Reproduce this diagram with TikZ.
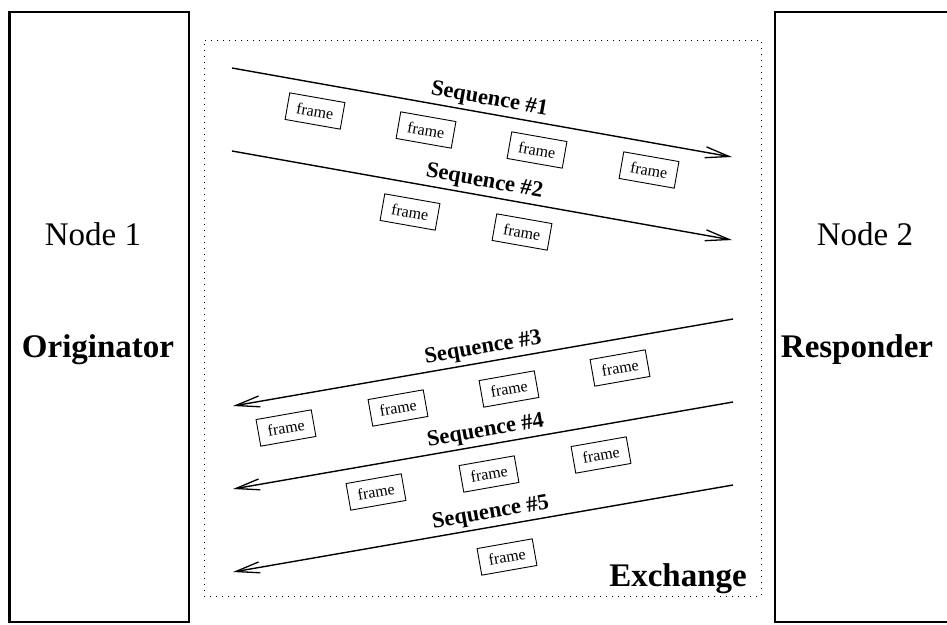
\documentclass[tikz,border=0pt]{standalone}
\usepackage{fontspec}
\setmainfont{Liberation Serif}
\usetikzlibrary{arrows.meta}

\tikzset{
  station/.style={draw, line width=2.6pt, inner sep=0pt},
  area/.style={draw, line width=0.9pt, dash pattern=on 0.9pt off 5.1pt, inner sep=0pt},
  flow/.style={line width=1.4pt,
    -{Straight Barb[length=24pt,width=11pt,line width=1.3pt]}},
  frm/.style={draw, line width=0.9pt, minimum width=56pt, minimum height=27pt,
    inner sep=0pt, font=\fontsize{16}{17}\selectfont},
  seqlabel/.style={font=\fontsize{22.5}{24}\selectfont\bfseries, sloped, above,
    inner sep=3pt},
  big/.style={font=\fontsize{33}{36}\selectfont, anchor=base, inner sep=0pt},
  bigbold/.style={big, font=\fontsize{33}{36}\selectfont\bfseries},
}

\begin{document}
\begin{tikzpicture}[x=1pt, y=-1pt]
  \clip (0,0) rectangle (947,624);

  % end stations and the exchange area
  \node[station, minimum width=179.5pt, minimum height=610pt] (orig) at (99.25,317) {};
  \node[station, minimum width=185pt, minimum height=610pt] (resp) at (867.5,317) {};
  \node[area, minimum width=557pt, minimum height=556pt] (exch) at (482.5,318) {};

  \node[big] (n1) at (93,245) {Node 1};
  \node[bigbold] (n1role) at (98,357) {Originator};
  \node[big] (n2) at (865,245) {Node 2};
  \node[bigbold] (n2role) at (857,357) {Responder};
  \node[bigbold] (exlabel) at (678,586) {Exchange};

  % sequence end points
  \coordinate (s1a) at (232,68);  \coordinate (s1b) at (732,157);
  \coordinate (s2a) at (232,151); \coordinate (s2b) at (732,240);
  \coordinate (s3a) at (733,319); \coordinate (s3b) at (233,406);
  \coordinate (s4a) at (733,402); \coordinate (s4b) at (233,489);
  \coordinate (s5a) at (733,485); \coordinate (s5b) at (233,572);

  % sequences
  \draw[flow] (s1a) -- node[seqlabel, pos=0.51] (l1) {Sequence \#1} (s1b);
  \draw[flow] (s2a) -- node[seqlabel, pos=0.50] (l2) {Sequence \#2} (s2b);
  \draw[flow] (s3a) -- node[seqlabel, pos=0.495] (l3) {Sequence \#3} (s3b);
  \draw[flow] (s4a) -- node[seqlabel, pos=0.49] (l4) {Sequence \#4} (s4b);
  \draw[flow] (s5a) -- node[seqlabel, pos=0.48] (l5) {Sequence \#5} (s5b);

  % frames of sequence 1
  \node[frm, rotate=-10] (f11) at (315,111) {frame};
  \node[frm, rotate=-10] (f12) at (426,130) {frame};
  \node[frm, rotate=-10] (f13) at (537,150) {frame};
  \node[frm, rotate=-10] (f14) at (649,170) {frame};
  % frames of sequence 2
  \node[frm, rotate=-10] (f21) at (410,212) {frame};
  \node[frm, rotate=-10] (f22) at (522,232) {frame};
  % frames of sequence 3
  \node[frm, rotate=10] (f31) at (286,428) {frame};
  \node[frm, rotate=10] (f32) at (398,408) {frame};
  \node[frm, rotate=10] (f33) at (509,389) {frame};
  \node[frm, rotate=10] (f34) at (620,368) {frame};
  % frames of sequence 4
  \node[frm, rotate=10] (f41) at (376,492) {frame};
  \node[frm, rotate=10] (f42) at (489,474) {frame};
  \node[frm, rotate=10] (f43) at (601,455) {frame};
  % frame of sequence 5
  \node[frm, rotate=10] (f51) at (507,557) {frame};
\end{tikzpicture}
\end{document}
